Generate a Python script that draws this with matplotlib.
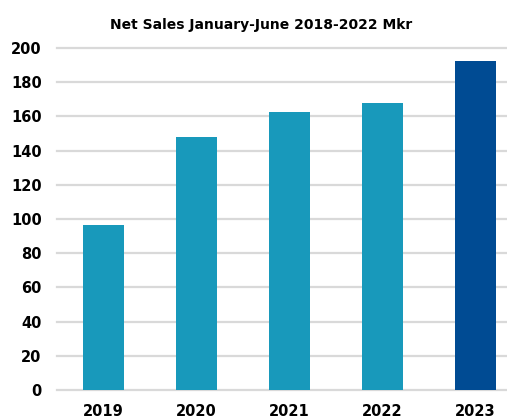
import matplotlib.pyplot as plt

# 데이터
years = ['2019', '2020', '2021', '2022', '2023']
sales = [96.5, 147.7, 162.7, 167.8, 192.4]
colors = ['#1899bb', '#1899bb', '#1899bb', '#1899bb', '#004b93']

plt.rcParams['font.family'] = ['DejaVu Sans']

fig = plt.figure(figsize=(5.07, 4.19), dpi=100)
ax = fig.add_axes([57 / 507, 1 - 390 / 419, 465 / 507, 342 / 419])

ax.bar(range(len(years)), sales, width=0.45, color=colors, zorder=3)

ax.set_xlim(-0.5, 4.5)
ax.set_ylim(0, 200)
ax.set_yticks(range(0, 201, 20))
ax.set_xticks(range(len(years)))
ax.set_xticklabels(years)
ax.grid(axis='y', color='#d9d9d9', linewidth=1.6, zorder=0)
for gl in ax.get_ygridlines():
    gl.set_clip_on(False)
ax.tick_params(length=0, labelsize=10.5)
ax.tick_params(axis='x', pad=10)
ax.tick_params(axis='y', pad=11)
for lab in ax.get_xticklabels() + ax.get_yticklabels():
    lab.set_fontweight('bold')
for s in ax.spines.values():
    s.set_visible(False)

fig.text(261 / 507, 1 - 25 / 419, 'Net Sales January-June 2018-2022 Mkr',
         ha='center', va='center', fontsize=10, fontweight='bold')

fig.savefig('out.png', dpi=100)
